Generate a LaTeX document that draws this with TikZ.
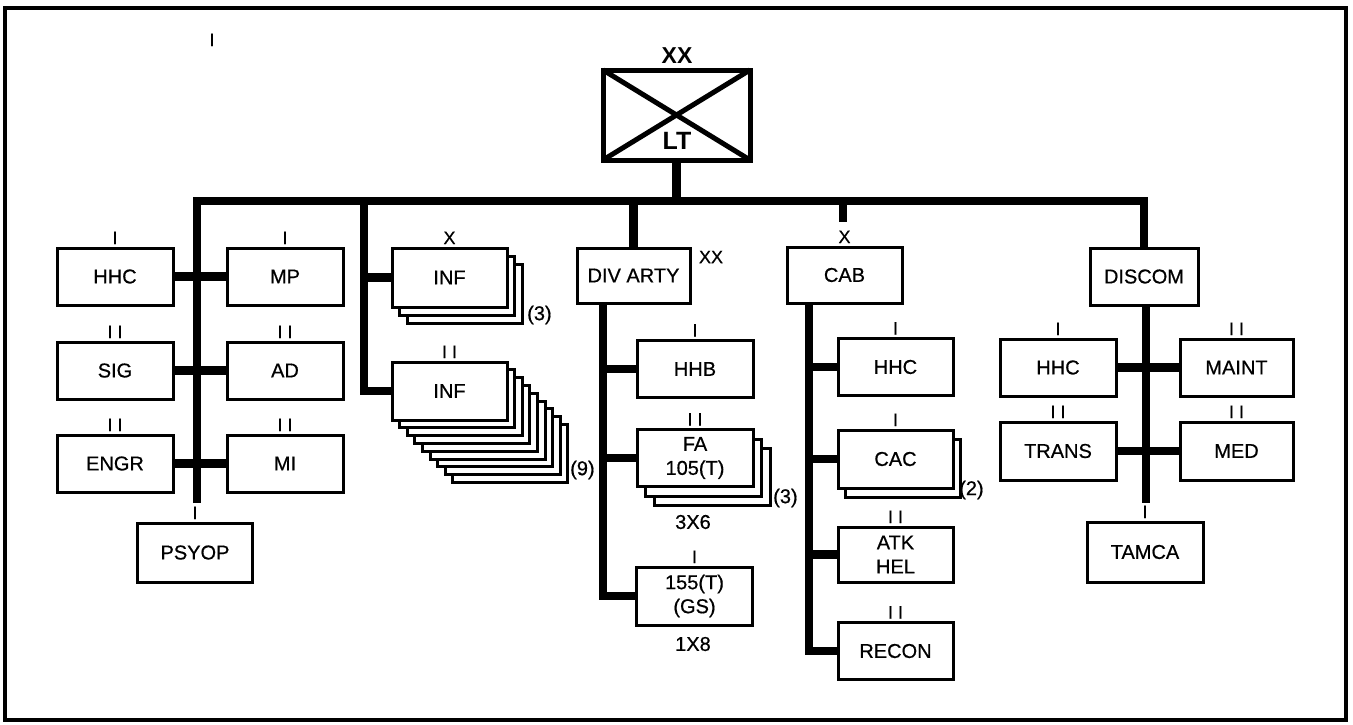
\documentclass[tikz,border=0pt]{standalone}
\usepackage{fontspec}
\setmainfont{Liberation Sans}
\newfontfamily\heavyfam[FakeBold=0.6]{Liberation Sans}
\usetikzlibrary{backgrounds}
\newcommand\lblfont{\heavyfam\fontsize{20}{24}\selectfont}
\newcommand\echfont{\heavyfam\fontsize{18}{20}\selectfont}
\begin{document}
\begin{tikzpicture}[x=1pt,y=-1pt,
  box/.style={draw, line width=3pt, fill=white, minimum width=116pt, minimum height=57pt, inner sep=2pt, outer sep=0pt, font=\lblfont, align=center},
  conn/.style={line width=8.5pt},
  ech/.style={font=\echfont, inner sep=0pt, anchor=base},
  note/.style={font=\lblfont, inner sep=0pt},
  stackbox/.style={draw, line width=3pt, fill=white}]
\useasboundingbox (0,0) rectangle (1353,724);
\draw[line width=4pt] (5,8) rectangle (1346,720);
\node[ech] (stray) at (212,46) {I};

% HQ
\node[draw, line width=5pt, minimum width=147pt, minimum height=90pt, outer sep=0pt] (hq) at (676.5,115) {};
\draw[line width=5pt] (hq.north west) -- (hq.south east) (hq.north east) -- (hq.south west);
\node[font=\bfseries\fontsize{23}{24}\selectfont, inner sep=0pt] (hqech) at (677,56) {XX};
\node[font=\bfseries\fontsize{25}{26}\selectfont, inner sep=0pt] (lt) at (677,141) {LT};

% left group
\node[box] (hhcA) at (115,276.5) {HHC};
\node[box] (mp) at (285,276.5) {MP};
\node[box] (sig) at (115,370.5) {SIG};
\node[box] (ad) at (285,370.5) {AD};
\node[box] (engr) at (115,463.5) {ENGR};
\node[box] (mi) at (285,463.5) {MI};
\node[box, minimum width=115pt, minimum height=59pt] (psyop) at (195,552.5) {PSYOP};

% infantry
\node[box, minimum width=115pt, minimum height=59pt] (infX) at (449.5,277.5) {INF};
\node[box, minimum width=115pt, minimum height=58pt] (infII) at (449.5,391) {INF};

% div arty
\node[box, minimum width=113pt, minimum height=55pt] (divarty) at (633.5,275.5) {DIV ARTY};
\node[box] (hhb) at (695,369) {HHB};
\node[box] (fa) at (695,458) {FA\\105(T)};
\node[box, minimum height=58pt] (g155) at (694.5,596) {155(T)\\(GS)};

% cab
\node[box, minimum width=115pt, minimum height=56pt] (cab) at (844.5,275) {CAB};
\node[box, minimum width=115pt] (hhcB) at (895.5,367) {HHC};
\node[box, minimum width=115pt, minimum height=58pt] (cac) at (895.5,459) {CAC};
\node[box, minimum width=115pt, minimum height=55pt] (atk) at (895.5,554.5) {ATK\\HEL};
\node[box, minimum width=115pt] (recon) at (895.5,651) {RECON};

% discom
\node[box, minimum width=108pt] (discom) at (1144,276.5) {DISCOM};
\node[box] (hhcC) at (1058,367.5) {HHC};
\node[box, minimum width=113pt] (maint) at (1236.5,367.5) {MAINT};
\node[box, minimum height=58pt] (trans) at (1058,451) {TRANS};
\node[box, minimum width=113pt, minimum height=58pt] (med) at (1236.5,451) {MED};
\node[box, minimum height=60pt] (tamca) at (1145,552) {TAMCA};

% stacked copies
\begin{pgfonlayer}{background}
\foreach \k in {2,1}
  \draw[stackbox] ([shift={(\k*7.5,\k*8)}]infX.south west) rectangle ([shift={(\k*7.5,\k*8)}]infX.north east);
\foreach \k in {8,7,...,1}
  \draw[stackbox] ([shift={(\k*7.6,\k*7.8)}]infII.south west) rectangle ([shift={(\k*7.6,\k*7.8)}]infII.north east);
\foreach \k in {2,1}
  \draw[stackbox] ([shift={(\k*8.5,\k*9.5)}]fa.south west) rectangle ([shift={(\k*8.5,\k*9.5)}]fa.north east);
\draw[stackbox] ([shift={(7,9)}]cac.south west) rectangle ([shift={(7,9)}]cac.north east);
\end{pgfonlayer}

% count / weapon labels
\node[note, anchor=west] (n1) at (527,315) {(3)};
\node[note, anchor=west] (n2) at (570,470) {(9)};
\node[note, anchor=west] (n3) at (773,498) {(3)};
\node[note, anchor=west] (n4) at (959,490) {(2)};
\node[note] (w1) at (693,522) {3X6};
\node[note] (w2) at (693,644) {1X8};

% echelon marks
\foreach \n/\t in {hhcA/I, mp/I, sig/I I, ad/I I, engr/I I, mi/I I, psyop/I, infX/X, infII/I I,
  hhb/I, fa/I I, g155/I, cab/X, hhcB/I, cac/I, atk/I I, recon/I I,
  hhcC/I, maint/I I, trans/I I, med/I I, tamca/I}
  \node[ech] at ([yshift=4pt]\n.north) {\t};
\node[font=\echfont, inner sep=0pt] (daech) at (711,257) {XX};

% connectors
\coordinate (bl) at (197,201);
\coordinate (lb) at (197,503);
\draw[conn] (lb) -- (bl) -- (discom.north |- bl) -- (discom.north);
\draw[conn] (hq.south) -- (hq.south |- bl);
\draw[conn] (hhcA.east) -- (mp.west);
\draw[conn] (sig.east) -- (ad.west);
\draw[conn] (engr.east) -- (mi.west);
\coordinate (v2) at (364,201);
\draw[conn] (v2) |- (infII.west);
\draw[conn] (v2 |- infX.west) -- (infX.west);
\draw[conn] (divarty.north |- bl) -- (divarty.north);
\coordinate (dv) at (603,0);
\draw[conn] (dv |- divarty.south) |- (g155.west);
\draw[conn] (dv |- hhb.west) -- (hhb.west);
\draw[conn] (dv |- fa.west) -- (fa.west);
\coordinate (cabstub) at (843,222);
\draw[conn] (cabstub |- bl) -- (cabstub);
\coordinate (cv) at (809,0);
\draw[conn] (cv |- cab.south) |- (recon.west);
\draw[conn] (cv |- hhcB.west) -- (hhcB.west);
\draw[conn] (cv |- cac.west) -- (cac.west);
\draw[conn] (cv |- atk.west) -- (atk.west);
\coordinate (db) at (1146,503);
\draw[conn] (db |- discom.south) -- (db);
\draw[conn] (hhcC.east) -- (maint.west);
\draw[conn] (trans.east) -- (med.west);
\end{tikzpicture}
\end{document}
